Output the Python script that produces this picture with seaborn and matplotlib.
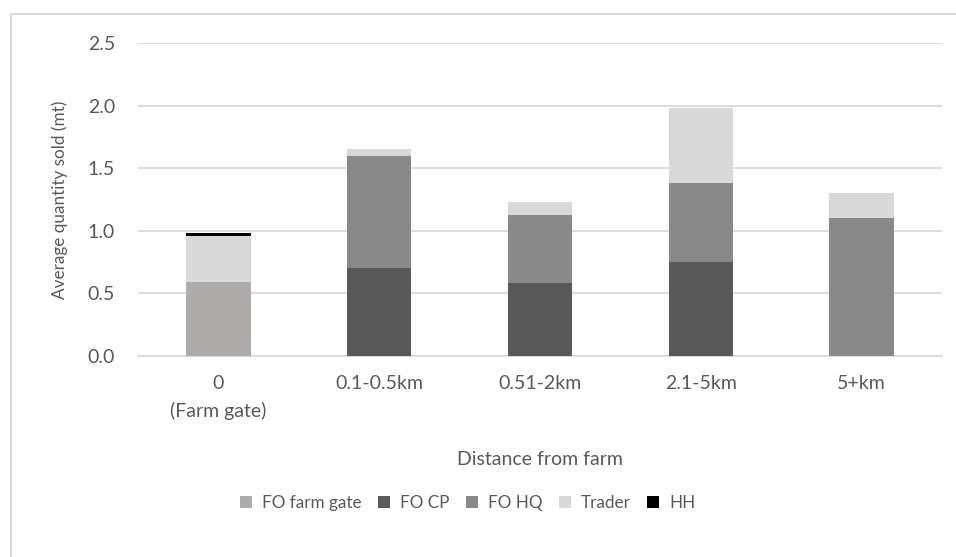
import matplotlib
matplotlib.use("Agg")
import matplotlib.pyplot as plt
from matplotlib.patches import Rectangle, Patch
import numpy as np
import pandas as pd
import seaborn as sns

# Average quantity sold (mt) by distance from farm, split by buyer
categories = ["0\n(Farm gate)", "0.1-0.5km", "0.51-2km", "2.1-5km", "5+km"]
fo_farm_gate = [0.59, 0.00, 0.00, 0.00, 0.00]
fo_cp = [0.00, 0.70, 0.58, 0.75, 0.00]
fo_hq = [0.00, 0.90, 0.55, 0.63, 1.10]
trader = [0.37, 0.05, 0.10, 0.60, 0.20]
hh = [0.02, 0.00, 0.00, 0.00, 0.00]

series_names = ["FO farm gate", "FO CP", "FO HQ", "Trader", "HH"]
series_values = [fo_farm_gate, fo_cp, fo_hq, trader, hh]
series_colors = ["#AEABAB", "#595959", "#898989", "#D9D9D9", "#000000"]

sns.set_theme(style="white")
plt.rcParams["font.family"] = ["Lato", "DejaVu Sans"]
text_color = "#595959"
grid_color = "#D9D9D9"

fig = plt.figure(figsize=(9.56, 5.57), dpi=100)
ax = fig.add_axes([138 / 956, 1 - 356 / 557, 804 / 956, 313 / 557])

# Stacked bars: draw cumulative totals from the top segment down
cum = np.cumsum(np.array(series_values), axis=0)
for i in range(len(series_names) - 1, -1, -1):
    df = pd.DataFrame({"distance": categories, "value": cum[i]})
    sns.barplot(data=df, x="distance", y="value", color=series_colors[i],
                width=0.4, saturation=1, linewidth=0, ax=ax, zorder=3)

ax.set_ylim(0, 2.5)
ax.set_yticks(np.arange(0, 2.51, 0.5))
ax.set_yticklabels([f"{v:.1f}" for v in np.arange(0, 2.51, 0.5)])
ax.yaxis.grid(True, color=grid_color, linewidth=1.3, zorder=0)
ax.set_axisbelow(True)
for s in ["top", "right", "left"]:
    ax.spines[s].set_visible(False)
ax.spines["bottom"].set_color(grid_color)
ax.spines["bottom"].set_linewidth(1.3)
ax.tick_params(axis="both", length=0, labelsize=14, colors=text_color)
ax.tick_params(axis="y", pad=16.5)
ax.tick_params(axis="x", pad=14)
for lbl in ax.get_xticklabels():
    lbl.set_linespacing(1.6)

ax.set_xlabel("Distance from farm", fontsize=14, color=text_color, labelpad=23)
ax.set_ylabel("Average quantity sold (mt)", fontsize=12.3, color=text_color, labelpad=14)

handles = [Patch(facecolor=c, edgecolor="none") for c in series_colors]
fig.legend(handles, series_names, loc="center",
           bbox_to_anchor=(468 / 956, 1 - 503 / 557), ncol=5, frameon=False,
           fontsize=12.3, handlelength=0.7, handleheight=0.7, handletextpad=0.6,
           columnspacing=0.95, labelcolor=text_color)

# Chart-area frame
fig.patches.append(Rectangle((11 / 956, -0.05), 1.0, 1 - 14 / 557 + 0.05,
                             transform=fig.transFigure, fill=False,
                             edgecolor=grid_color, linewidth=1.5))

fig.savefig("out.png", dpi=100)
